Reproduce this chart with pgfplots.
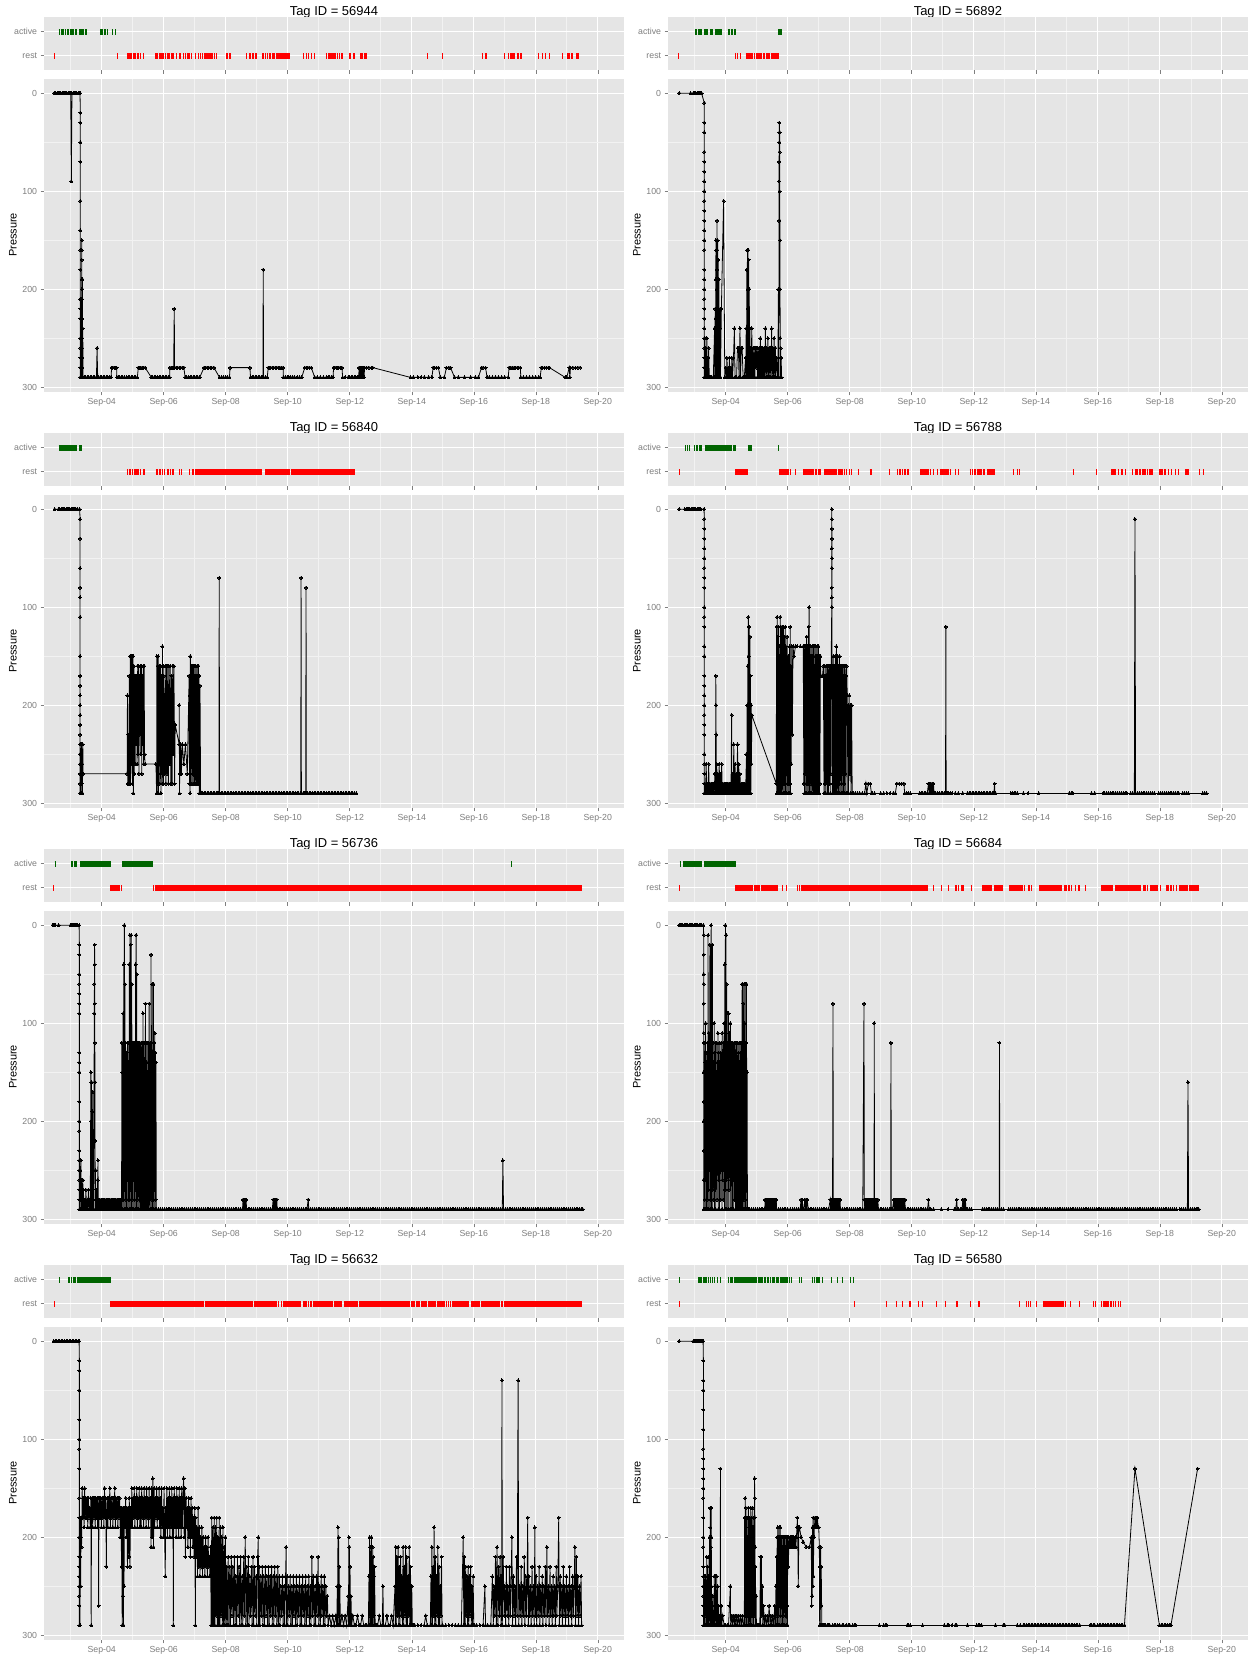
\documentclass[border=0pt]{standalone}
\usepackage{fontspec}
\setmainfont{Liberation Sans}
\usepackage{pgfplots}
\pgfplotsset{compat=1.18}

\definecolor{panelbg}{HTML}{E5E5E5}
\definecolor{gridminor}{HTML}{F2F2F2}
\definecolor{axisgrey}{HTML}{7F7F7F}
\definecolor{activegreen}{HTML}{006400}
\definecolor{restred}{HTML}{FF0000}

\newcommand{\titlefont}{\fontsize{13}{15}\selectfont}
\newcommand{\labfont}{\fontsize{11}{13}\selectfont}
\newcommand{\tickfont}{\fontsize{8.8}{10}\selectfont}

\pgfplotsset{
  ggbase/.style={
    scale only axis, anchor=north west,
    width=579.2bp,
    xmin=2.148, xmax=20.83,
    axis background/.style={fill=panelbg},
    axis line style={draw=none},
    tick align=outside,
    major tick length=3.7bp, minor tick length=0pt,
    every tick/.style={draw=axisgrey, line width=0.5bp},
    xtick={4,6,...,20}, minor xtick={3,5,...,19},
    xmajorgrids, xminorgrids,
    major grid style={white, line width=1.1bp},
    minor grid style={gridminor, line width=0.55bp},
    xtick pos=bottom, ytick pos=left,
    tick label style={font=\tickfont, text=axisgrey},
    /pgf/number format/assume math mode=true,
    filter discard warning=false,
  },
  strip/.style={ggbase, height=52.7bp, ymin=0.4, ymax=2.6,
    ytick={1,2}, yticklabels={rest,active}, xticklabels={}, ymajorgrids},
  depth/.style={ggbase, height=312.6bp, ymin=-14.5, ymax=304.5, y dir=reverse,
    ytick={0,100,200,300}, minor ytick={50,150,250}, ymajorgrids, yminorgrids,
    xticklabels={Sep-04,Sep-06,Sep-08,Sep-10,Sep-12,Sep-14,Sep-16,Sep-18,Sep-20}},
  actbar/.style={draw=activegreen, line width=6bp, mark=none, unbounded coords=jump},
  restbar/.style={draw=restred, line width=6bp, mark=none, unbounded coords=jump},
  dive/.style={black, line width=0.8bp, mark=*, mark size=1.5bp,
    mark options={fill=black, draw=black, line width=0pt}},
}

\begin{document}
\begin{tikzpicture}
\fill[white] (0,0) rectangle (1249bp,-1654bp);
\useasboundingbox (0,0) rectangle (1249bp,-1654bp);

% ---------------- Tag 56944 ----------------
\node[font=\titlefont] at (333.9bp,-12bp) {Tag ID = 56944};
\node[font=\labfont, rotate=90] at (13bp,-235bp) {Pressure};
\begin{axis}[strip, at={(44.3bp,-17.3bp)}]
\addplot[actbar] coordinates {(2.61,2)(2.66,2)(2.66,nan)(2.68,2)(2.78,2)(2.78,nan)(2.8,2)(2.83,2)(2.83,nan)(2.89,2)(2.95,2)(2.95,nan)(2.97,2)(3.12,2)(3.12,nan)(3.14,2)(3.21,2)(3.21,nan)(3.28,2)(3.36,2)(3.36,nan)(3.38,2)(3.42,2)(3.42,nan)(3.45,2)(3.51,2)(3.51,nan)(3.95,2)(4.05,2)(4.05,nan)(4.07,2)(4.14,2)(4.14,nan)(4.16,2)(4.2,2)(4.2,nan)(4.32,2)(4.34,2)(4.34,nan)(4.43,2)(4.45,2)};
\addplot[restbar] coordinates {(2.47,1)(2.5,1)(2.5,nan)(4.5,1)(4.52,1)(4.52,nan)(4.82,1)(4.9,1)(4.9,nan)(4.92,1)(4.98,1)(4.98,nan)(5.0,1)(5.12,1)(5.12,nan)(5.15,1)(5.2,1)(5.2,nan)(5.25,1)(5.28,1)(5.28,nan)(5.34,1)(5.36,1)(5.36,nan)(5.72,1)(5.82,1)(5.82,nan)(5.84,1)(6.0,1)(6.0,nan)(6.03,1)(6.08,1)(6.08,nan)(6.1,1)(6.2,1)(6.2,nan)(6.22,1)(6.32,1)(6.32,nan)(6.38,1)(6.42,1)(6.42,nan)(6.5,1)(6.56,1)(6.56,nan)(6.62,1)(6.64,1)(6.64,nan)(6.68,1)(6.7,1)(6.7,nan)(6.76,1)(6.84,1)(6.84,nan)(6.88,1)(6.9,1)(6.9,nan)(7.0,1)(7.02,1)(7.02,nan)(7.1,1)(7.14,1)(7.14,nan)(7.18,1)(7.2,1)(7.2,nan)(7.24,1)(7.28,1)(7.28,nan)(7.3,1)(7.6,1)(7.6,nan)(7.62,1)(7.66,1)(7.66,nan)(7.68,1)(7.72,1)(7.72,nan)(8.02,1)(8.06,1)(8.06,nan)(8.12,1)(8.17,1)(8.17,nan)(8.66,1)(8.68,1)(8.68,nan)(8.76,1)(8.8,1)(8.8,nan)(8.85,1)(8.92,1)(8.92,nan)(8.95,1)(9.0,1)(9.0,nan)(9.17,1)(9.22,1)(9.22,nan)(9.26,1)(9.28,1)(9.28,nan)(9.32,1)(9.34,1)(9.34,nan)(9.38,1)(9.4,1)(9.4,nan)(9.44,1)(9.46,1)(9.46,nan)(9.5,1)(9.6,1)(9.6,nan)(9.62,1)(9.8,1)(9.8,nan)(9.82,1)(10.0,1)(10.0,nan)(10.02,1)(10.06,1)(10.06,nan)(10.49,1)(10.52,1)(10.52,nan)(10.58,1)(10.6,1)(10.6,nan)(10.66,1)(10.7,1)(10.7,nan)(10.76,1)(10.78,1)(10.78,nan)(10.84,1)(10.87,1)(10.87,nan)(11.22,1)(11.26,1)(11.26,nan)(11.3,1)(11.55,1)(11.55,nan)(11.58,1)(11.62,1)(11.62,nan)(11.66,1)(11.68,1)(11.68,nan)(11.72,1)(11.78,1)(11.78,nan)(11.99,1)(12.03,1)(12.03,nan)(12.12,1)(12.16,1)(12.16,nan)(12.34,1)(12.42,1)(12.42,nan)(12.46,1)(12.55,1)(12.55,nan)(14.5,1)(14.52,1)(14.52,nan)(14.98,1)(15.0,1)(15.0,nan)(16.25,1)(16.28,1)(16.28,nan)(16.35,1)(16.42,1)(16.42,nan)(16.98,1)(17.0,1)(17.0,nan)(17.1,1)(17.12,1)(17.12,nan)(17.18,1)(17.25,1)(17.25,nan)(17.28,1)(17.32,1)(17.32,nan)(17.38,1)(17.45,1)(17.45,nan)(17.5,1)(17.56,1)(17.56,nan)(18.08,1)(18.12,1)(18.12,nan)(18.2,1)(18.24,1)(18.24,nan)(18.3,1)(18.32,1)(18.32,nan)(18.44,1)(18.47,1)(18.47,nan)(18.85,1)(18.87,1)(18.87,nan)(19.02,1)(19.1,1)(19.1,nan)(19.15,1)(19.2,1)(19.2,nan)(19.3,1)(19.39,1)};
\end{axis}
\begin{axis}[depth, at={(44.3bp,-79bp)}]
\addplot[dive] coordinates {(2.47,0)(2.52,0)(2.56,0)(2.6,0)(2.64,0)(2.68,0)(2.72,0)(2.76,0)(2.8,0)(2.84,0)(2.88,0)(2.92,0)(2.96,0)(3.0,0)(3.02,90)(3.04,0)(3.08,0)(3.12,0)(3.16,0)(3.2,0)(3.24,0)(3.28,0)(3.3,0)
(3.31,20)(3.31,30)(3.31,50)(3.31,70)(3.31,110)(3.31,140)(3.31,160)(3.31,180)(3.31,210)(3.31,220)(3.31,230)(3.31,250)(3.31,260)(3.31,270)(3.31,280)(3.31,290)
(3.32,290)(3.325,270)(3.33,250)(3.335,290)(3.34,230)(3.345,210)(3.35,290)(3.355,150)(3.356,160)(3.357,170)(3.358,190)(3.359,200)(3.36,210)(3.361,230)(3.362,240)(3.363,250)(3.364,260)(3.365,270)(3.366,280)(3.367,290)(3.372,200)(3.376,290)(3.38,190)(3.384,290)(3.39,240)(3.395,290)
(3.43,290)(3.48,290)(3.53,290)(3.58,290)(3.63,290)(3.68,290)(3.73,290)(3.78,290)(3.83,290)(3.85,260)(3.87,290)(3.9,290)(3.95,290)(4.0,290)(4.05,290)(4.1,290)(4.15,290)(4.2,290)(4.25,290)(4.3,290)(4.32,280)(4.36,280)(4.4,280)(4.44,280)(4.48,280)(4.49,290)(4.53,290)(4.58,290)(4.63,290)(4.68,290)(4.73,290)(4.8,290)(4.85,290)(4.9,290)(4.95,290)(5.0,290)(5.05,290)(5.1,290)(5.15,290)(5.18,280)(5.22,280)(5.26,280)(5.3,280)(5.34,280)(5.4,280)(5.6,290)(5.65,290)(5.7,290)(5.75,290)(5.8,290)(5.85,290)(5.9,290)(5.95,290)(6.0,290)(6.05,290)(6.1,290)(6.15,290)(6.19,290)(6.2,280)(6.24,280)(6.28,280)(6.32,280)(6.34,220)(6.35,280)(6.4,280)(6.45,280)(6.5,280)(6.55,280)(6.6,280)(6.65,280)(6.69,290)(6.74,290)(6.8,290)(6.85,290)(6.9,290)(6.95,290)(7.0,290)(7.05,290)(7.1,290)(7.16,290)(7.3,280)(7.35,280)(7.4,280)(7.45,280)(7.5,280)(7.55,280)(7.62,280)(7.8,290)(7.87,290)(7.93,290)(8.0,290)(8.05,290)(8.12,290)(8.14,280)(8.78,280)(8.8,290)(8.85,290)(8.9,290)(8.95,290)(9.0,290)(9.05,290)(9.1,290)(9.15,290)(9.2,290)(9.21,180)(9.22,290)(9.28,290)(9.34,290)(9.37,280)(9.41,280)(9.45,280)(9.5,280)(9.55,280)(9.6,280)(9.65,280)(9.7,280)(9.75,280)(9.8,280)(9.85,280)(9.86,290)(9.92,290)(9.98,290)(10.04,290)(10.1,290)(10.16,290)(10.22,290)(10.3,290)(10.38,290)(10.45,290)(10.55,280)(10.6,280)(10.65,280)(10.7,280)(10.76,280)(10.87,290)(10.95,290)(11.05,290)(11.15,290)(11.25,290)(11.3,290)(11.35,290)(11.42,290)(11.46,290)(11.48,280)(11.52,280)(11.56,280)(11.6,280)(11.65,280)(11.7,280)(11.75,280)(11.77,290)(11.85,290)(11.95,290)(12.0,290)(12.05,290)(12.1,290)(12.15,290)(12.2,290)(12.25,290)(12.29,290)(12.3,280)(12.31,290)(12.33,280)(12.34,290)(12.36,280)(12.37,290)(12.39,280)(12.4,290)(12.42,280)(12.43,290)(12.45,280)(12.46,290)(12.48,280)(12.55,280)(12.62,280)(12.7,280)(12.74,280)(13.96,290)(14.05,290)(14.2,290)(14.3,290)(14.4,290)(14.55,290)(14.65,290)(14.69,280)(14.73,280)(14.8,280)(14.86,280)(14.92,290)(15.05,290)(15.12,280)(15.2,280)(15.25,280)(15.38,290)(15.5,290)(15.7,290)(15.9,290)(16.05,290)(16.15,290)(16.25,280)(16.3,280)(16.38,280)(16.43,290)(16.5,290)(16.6,290)(16.7,290)(16.8,290)(16.9,290)(17.0,290)(17.11,290)(17.14,280)(17.2,280)(17.25,280)(17.3,280)(17.35,280)(17.4,280)(17.45,280)(17.5,280)(17.52,290)(17.6,290)(17.7,290)(17.8,290)(17.9,290)(18.0,290)(18.1,290)(18.14,290)(18.18,280)(18.22,280)(18.28,280)(18.34,280)(18.4,280)(18.44,280)(18.95,290)(19.0,290)(19.08,280)(19.1,290)(19.12,280)(19.2,280)(19.28,280)(19.36,280)(19.43,280)};
\end{axis}

% ---------------- Tag 56892 ----------------
\node[font=\titlefont] at (957.9bp,-12bp) {Tag ID = 56892};
\node[font=\labfont, rotate=90] at (637bp,-235bp) {Pressure};
\begin{axis}[strip, at={(668.3bp,-17.3bp)}]
\addplot[actbar] coordinates {(3.01,2)(3.08,2)(3.08,nan)(3.1,2)(3.13,2)(3.13,nan)(3.14,2)(3.22,2)(3.22,nan)(3.31,2)(3.35,2)(3.35,nan)(3.37,2)(3.42,2)(3.42,nan)(3.48,2)(3.5,2)(3.5,nan)(3.52,2)(3.6,2)(3.6,nan)(3.64,2)(3.87,2)(3.87,nan)(4.06,2)(4.08,2)(4.08,nan)(4.12,2)(4.14,2)(4.14,nan)(4.16,2)(4.25,2)(4.25,nan)(4.27,2)(4.32,2)(4.32,nan)(5.7,2)(5.8,2)};
\addplot[restbar] coordinates {(2.47,1)(2.49,1)(2.49,nan)(4.3,1)(4.32,1)(4.32,nan)(4.37,1)(4.38,1)(4.38,nan)(4.46,1)(4.48,1)(4.48,nan)(4.64,1)(4.68,1)(4.68,nan)(4.7,1)(4.88,1)(4.88,nan)(4.91,1)(4.93,1)(4.93,nan)(4.98,1)(5.1,1)(5.1,nan)(5.12,1)(5.18,1)(5.18,nan)(5.2,1)(5.28,1)(5.28,nan)(5.3,1)(5.42,1)(5.42,nan)(5.45,1)(5.55,1)(5.55,nan)(5.57,1)(5.72,1)};
\end{axis}
\begin{axis}[depth, at={(668.3bp,-79bp)}]
\addplot[dive] coordinates {(2.5,0)(2.87,0)(2.96,0)(3.0,0)(3.04,0)(3.08,0)(3.12,0)(3.15,0)(3.18,0)(3.22,0)(3.31,10)(3.31,30)(3.31,40)(3.31,60)(3.31,70)(3.31,80)(3.31,90)(3.31,100)(3.31,110)(3.31,120)(3.31,130)(3.31,140)(3.31,150)(3.31,160)(3.31,180)(3.31,190)(3.31,200)(3.31,210)(3.31,220)(3.31,230)(3.31,240)(3.31,250)(3.31,260)(3.31,270)(3.31,280)(3.31,290)
(3.33,250)(3.35,290)(3.36,260)(3.38,290)(3.39,250)(3.41,290)(3.42,270)(3.44,290)(3.45,260)(3.47,290)(3.51,290)(3.55,290)(3.6,290)
(3.64,240)(3.65,290)(3.66,220)(3.67,290)(3.675,230)(3.68,190)(3.685,150)(3.69,290)(3.7,160)(3.705,200)(3.71,290)(3.715,230)(3.718,180)(3.72,130)(3.722,160)(3.725,200)(3.728,250)(3.73,290)(3.74,150)(3.75,290)(3.76,170)(3.77,290)(3.78,190)(3.79,290)(3.8,240)(3.81,290)(3.82,220)(3.83,290)
(3.86,220)(3.93,110)(3.97,290)(4.0,280)(4.02,290)(4.04,270)(4.06,290)(4.08,280)(4.1,290)(4.12,270)(4.14,290)(4.16,280)(4.18,290)(4.2,270)(4.22,290)(4.25,270)(4.28,240)(4.3,290)(4.35,290)(4.38,260)(4.41,260)(4.43,290)(4.46,240)(4.48,290)(4.5,260)(4.53,260)(4.56,290)(4.6,290)
(4.64,270)(4.65,290)(4.66,240)(4.67,290)(4.68,180)(4.69,290)(4.7,160)(4.705,200)(4.71,290)(4.72,160)(4.725,220)(4.73,290)(4.74,170)(4.75,290)(4.76,200)(4.77,290)(4.78,240)(4.79,290)(4.8,260)(4.82,290)(4.84,240)(4.86,290)
(4.88,260)(4.9,290)(4.92,260)(4.94,290)(4.96,260)(4.98,280)(5.0,260)(5.02,290)(5.04,260)(5.06,290)(5.08,260)(5.1,290)(5.12,250)(5.14,290)(5.16,260)(5.18,290)(5.2,260)(5.22,290)(5.24,260)(5.26,290)(5.28,240)(5.3,290)(5.32,260)(5.34,290)(5.36,250)(5.38,290)(5.4,260)(5.42,290)(5.44,260)(5.46,290)(5.48,240)(5.5,290)(5.52,260)(5.54,290)(5.56,250)(5.58,290)(5.6,260)(5.62,290)(5.64,270)
(5.68,290)(5.7,200)(5.71,290)(5.72,130)(5.72,90)(5.72,70)(5.73,50)(5.73,40)(5.73,30)(5.74,40)(5.74,60)(5.74,100)(5.75,150)(5.75,200)(5.76,250)(5.76,290)(5.77,260)(5.78,290)(5.79,270)(5.8,290)};
\end{axis}

% ---------------- Tag 56840 ----------------
\node[font=\titlefont] at (333.9bp,-428bp) {Tag ID = 56840};
\node[font=\labfont, rotate=90] at (13bp,-651bp) {Pressure};
\begin{axis}[strip, at={(44.3bp,-433.3bp)}]
\addplot[actbar] coordinates {(2.61,2)(2.64,2)(2.64,nan)(2.66,2)(2.8,2)(2.8,nan)(2.82,2)(3.0,2)(3.0,nan)(3.02,2)(3.19,2)(3.19,nan)(3.28,2)(3.36,2)};
\addplot[restbar] coordinates {(4.82,1)(4.84,1)(4.84,nan)(4.87,1)(4.95,1)(4.95,nan)(4.97,1)(5.02,1)(5.02,nan)(5.05,1)(5.1,1)(5.1,nan)(5.12,1)(5.2,1)(5.2,nan)(5.25,1)(5.28,1)(5.28,nan)(5.33,1)(5.38,1)(5.38,nan)(5.75,1)(5.82,1)(5.82,nan)(5.84,1)(5.9,1)(5.9,nan)(5.93,1)(5.95,1)(5.95,nan)(6.01,1)(6.03,1)(6.03,nan)(6.1,1)(6.16,1)(6.16,nan)(6.2,1)(6.25,1)(6.25,nan)(6.28,1)(6.33,1)(6.33,nan)(6.5,1)(6.52,1)(6.52,nan)(6.56,1)(6.58,1)(6.58,nan)(6.83,1)(6.86,1)(6.86,nan)(6.9,1)(6.98,1)(6.98,nan)(7.02,1)(9.18,1)(9.18,nan)(9.27,1)(10.06,1)(10.06,nan)(10.09,1)(12.17,1)};
\end{axis}
\begin{axis}[depth, at={(44.3bp,-495bp)}]
\addplot[dive] coordinates {(2.48,0)(2.61,0)(2.65,0)(2.69,0)(2.73,0)(2.77,0)(2.81,0)(2.85,0)(2.89,0)(2.93,0)(2.97,0)(3.01,0)(3.05,0)(3.09,0)(3.13,0)(3.17,0)(3.21,0)(3.29,0)
(3.3,10)(3.3,30)(3.3,60)(3.3,80)(3.3,90)(3.3,110)(3.3,150)(3.3,170)(3.3,180)(3.3,190)(3.3,200)(3.3,210)(3.3,220)(3.3,230)(3.3,240)(3.3,250)(3.3,260)(3.3,270)(3.3,280)(3.3,290)
(3.31,240)(3.32,290)(3.33,250)(3.34,290)(3.35,240)(3.36,280)(3.37,260)(3.38,290)(3.39,240)(3.4,270)(4.82,270)
(4.83,190)(4.84,280)(4.86,230)(4.87,280)(4.89,170)(4.9,280)(4.92,150)(4.93,280)(4.95,150)(4.96,260)(4.98,150)(4.99,280)(5.01,150)(5.02,290)(5.04,160)(5.05,270)(5.07,170)(5.08,260)(5.1,170)(5.11,240)(5.13,170)(5.14,260)(5.16,160)(5.17,250)(5.19,160)(5.2,270)(5.22,170)(5.23,230)(5.25,160)(5.26,250)(5.28,160)(5.29,270)(5.31,170)(5.32,240)(5.34,160)(5.35,260)(5.37,160)(5.38,250)(5.4,260)(5.75,260)
(5.77,290)(5.78,150)(5.79,290)(5.8,160)(5.81,280)(5.82,150)(5.83,290)(5.84,170)(5.85,260)(5.86,160)(5.87,280)(5.88,180)(5.89,270)(5.9,160)(5.91,290)(5.92,190)(5.93,260)(5.94,170)(5.95,280)(5.96,140)(5.97,270)(5.98,160)(5.99,280)(6.0,170)(6.01,260)(6.02,190)(6.03,270)(6.05,160)(6.07,280)(6.09,160)(6.11,270)(6.13,160)(6.15,280)(6.17,160)(6.19,260)(6.21,160)(6.23,280)(6.25,170)(6.27,280)(6.29,160)(6.31,250)(6.33,160)(6.35,280)(6.37,220)
(6.5,240)(6.5,200)(6.51,290)(6.52,240)(6.53,270)(6.55,240)(6.57,270)(6.6,240)(6.65,260)(6.7,240)(6.76,270)(6.82,170)
(6.83,280)(6.84,190)(6.85,290)(6.86,150)(6.87,280)(6.88,170)(6.89,260)(6.9,160)(6.91,280)(6.92,170)(6.93,270)(6.94,160)(6.95,280)(6.96,160)(6.97,260)(6.98,170)(6.99,280)(7.0,160)(7.01,270)(7.02,170)(7.03,280)(7.04,160)(7.05,260)(7.06,170)(7.07,280)(7.08,160)(7.09,270)(7.1,170)(7.11,280)(7.12,160)(7.13,270)(7.14,170)(7.15,290)(7.17,180)(7.19,290)(7.21,290)
(7.25,290)(7.3,290)(7.35,290)(7.4,290)(7.45,290)(7.5,290)(7.55,290)(7.6,290)(7.65,290)(7.7,290)(7.75,290)(7.78,290)(7.79,70)(7.8,290)(7.85,290)(7.9,290)(7.95,290)(8.0,290)(8.05,290)(8.1,290)(8.15,290)(8.2,290)(8.25,290)(8.3,290)(8.35,290)(8.4,290)(8.45,290)(8.5,290)(8.55,290)(8.6,290)(8.65,290)(8.7,290)(8.75,290)(8.8,290)(8.85,290)(8.9,290)(8.95,290)(9.0,290)(9.05,290)(9.1,290)(9.15,290)(9.2,290)(9.25,290)(9.3,290)(9.35,290)(9.4,290)(9.45,290)(9.5,290)(9.55,290)(9.6,290)(9.65,290)(9.7,290)(9.75,290)(9.8,290)(9.85,290)(9.9,290)(9.95,290)(10.0,290)(10.05,290)(10.1,290)(10.15,290)(10.2,290)(10.25,290)(10.3,290)(10.35,290)(10.42,290)(10.43,70)(10.44,290)(10.5,290)(10.55,290)(10.58,290)(10.59,80)(10.6,290)(10.65,290)(10.7,290)(10.75,290)(10.8,290)(10.85,290)(10.9,290)(10.95,290)(11.0,290)(11.05,290)(11.1,290)(11.15,290)(11.2,290)(11.25,290)(11.3,290)(11.35,290)(11.4,290)(11.45,290)(11.5,290)(11.55,290)(11.6,290)(11.65,290)(11.7,290)(11.75,290)(11.8,290)(11.85,290)(11.9,290)(11.95,290)(12.0,290)(12.05,290)(12.1,290)(12.15,290)(12.21,290)};
\end{axis}

% ---------------- Tag 56788 ----------------
\node[font=\titlefont] at (957.9bp,-428bp) {Tag ID = 56788};
\node[font=\labfont, rotate=90] at (637bp,-651bp) {Pressure};
\begin{axis}[strip, at={(668.3bp,-433.3bp)}]
\addplot[actbar] coordinates {(2.7,2)(2.72,2)(2.72,nan)(2.75,2)(2.77,2)(2.77,nan)(2.82,2)(2.83,2)(2.83,nan)(2.97,2)(3.02,2)(3.02,nan)(3.04,2)(3.12,2)(3.12,nan)(3.14,2)(3.22,2)(3.22,nan)(3.32,2)(4.1,2)(4.1,nan)(4.12,2)(4.2,2)(4.2,nan)(4.22,2)(4.26,2)(4.26,nan)(4.28,2)(4.32,2)(4.32,nan)(4.71,2)(4.84,2)(4.84,nan)(5.69,2)(5.71,2)};
\addplot[restbar] coordinates {(2.49,1)(2.51,1)(2.51,nan)(4.31,1)(4.71,1)(4.71,nan)(5.72,1)(5.97,1)(5.97,nan)(5.99,1)(6.03,1)(6.03,nan)(6.07,1)(6.09,1)(6.09,nan)(6.25,1)(6.28,1)(6.28,nan)(6.49,1)(6.85,1)(6.85,nan)(6.87,1)(6.95,1)(6.95,nan)(6.98,1)(7.07,1)(7.07,nan)(7.17,1)(7.45,1)(7.45,nan)(7.47,1)(7.52,1)(7.52,nan)(7.54,1)(7.6,1)(7.6,nan)(7.62,1)(7.78,1)(7.78,nan)(7.8,1)(7.83,1)(7.83,nan)(7.88,1)(7.9,1)(7.9,nan)(7.97,1)(8.0,1)(8.0,nan)(8.05,1)(8.08,1)(8.08,nan)(8.27,1)(8.31,1)(8.31,nan)(8.64,1)(8.66,1)(8.66,nan)(8.68,1)(8.7,1)(8.7,nan)(9.26,1)(9.28,1)(9.28,nan)(9.53,1)(9.55,1)(9.55,nan)(9.6,1)(9.64,1)(9.64,nan)(9.68,1)(9.7,1)(9.7,nan)(9.76,1)(9.8,1)(9.8,nan)(9.86,1)(9.9,1)(9.9,nan)(10.28,1)(10.55,1)(10.55,nan)(10.58,1)(10.62,1)(10.62,nan)(10.68,1)(10.72,1)(10.72,nan)(10.8,1)(10.82,1)(10.82,nan)(10.9,1)(11.2,1)(11.2,nan)(11.22,1)(11.26,1)(11.26,nan)(11.4,1)(11.42,1)(11.42,nan)(11.5,1)(11.52,1)(11.52,nan)(11.87,1)(11.9,1)(11.9,nan)(11.93,1)(11.96,1)(11.96,nan)(12.02,1)(12.06,1)(12.06,nan)(12.1,1)(12.25,1)(12.25,nan)(12.3,1)(12.36,1)(12.36,nan)(12.42,1)(12.58,1)(12.58,nan)(12.6,1)(12.7,1)(12.7,nan)(13.25,1)(13.3,1)(13.3,nan)(13.38,1)(13.4,1)(13.4,nan)(13.45,1)(13.47,1)(13.47,nan)(15.2,1)(15.22,1)(15.22,nan)(15.95,1)(15.97,1)(15.97,nan)(16.43,1)(16.6,1)(16.6,nan)(16.64,1)(16.7,1)(16.7,nan)(16.74,1)(16.8,1)(16.8,nan)(16.88,1)(16.92,1)(16.92,nan)(17.1,1)(17.14,1)(17.14,nan)(17.2,1)(17.3,1)(17.3,nan)(17.34,1)(17.4,1)(17.4,nan)(17.43,1)(17.55,1)(17.55,nan)(17.58,1)(17.62,1)(17.62,nan)(17.65,1)(17.78,1)(17.78,nan)(17.97,1)(18.1,1)(18.1,nan)(18.13,1)(18.2,1)(18.2,nan)(18.25,1)(18.3,1)(18.3,nan)(18.36,1)(18.4,1)(18.4,nan)(18.5,1)(18.52,1)(18.52,nan)(18.6,1)(18.62,1)(18.62,nan)(18.81,1)(18.94,1)(18.94,nan)(19.26,1)(19.28,1)(19.28,nan)(19.41,1)(19.43,1)};
\end{axis}
\begin{axis}[depth, at={(668.3bp,-495bp)}]
\addplot[dive] coordinates {(2.5,0)(2.68,0)(2.72,0)(2.76,0)(2.8,0)(2.84,0)(2.88,0)(2.92,0)(2.96,0)(3.0,0)(3.04,0)(3.08,0)(3.12,0)(3.16,0)(3.2,0)(3.3,0)
(3.31,10)(3.31,20)(3.31,30)(3.31,40)(3.31,50)(3.31,60)(3.31,70)(3.31,80)(3.31,100)(3.31,110)(3.31,120)(3.31,140)(3.31,150)(3.31,170)(3.31,180)(3.31,190)(3.31,200)(3.31,210)(3.31,220)(3.31,230)(3.31,250)(3.31,260)(3.31,270)(3.31,280)(3.31,290)
(3.33,280)(3.35,290)(3.37,260)(3.39,290)(3.41,280)(3.43,290)(3.45,260)(3.47,290)(3.49,280)(3.51,290)(3.53,280)(3.55,290)(3.57,280)(3.59,290)(3.61,280)(3.63,290)(3.65,270)(3.67,290)(3.68,170)(3.685,200)(3.69,230)(3.7,290)(3.71,260)(3.73,290)(3.75,270)(3.77,290)(3.79,260)(3.81,290)(3.83,270)(3.85,290)(3.87,260)(3.89,290)(3.91,280)(3.93,290)(3.95,280)(3.97,290)(3.99,280)(4.01,290)(4.03,280)(4.05,290)(4.07,280)(4.09,290)(4.11,280)(4.13,290)(4.15,280)(4.17,290)(4.19,210)(4.2,290)(4.22,270)(4.24,290)(4.26,240)(4.28,290)(4.3,260)(4.32,290)(4.34,270)(4.36,290)(4.38,240)(4.4,290)(4.42,260)(4.44,290)(4.46,270)(4.48,290)(4.5,280)(4.52,290)(4.54,280)(4.56,290)(4.58,280)(4.6,290)(4.62,280)(4.64,290)
(4.67,250)(4.68,290)(4.69,200)(4.7,290)(4.71,160)(4.72,290)(4.73,110)(4.735,150)(4.74,200)(4.745,250)(4.75,290)(4.76,120)(4.77,290)(4.78,130)(4.79,290)(4.8,170)(4.81,290)(4.82,200)(4.83,260)(4.84,210)(5.63,280)
(5.64,120)(5.65,290)(5.66,110)(5.67,280)(5.68,130)(5.69,290)(5.7,120)(5.71,280)(5.72,140)(5.73,290)(5.74,150)(5.75,270)(5.76,110)(5.77,290)(5.78,120)(5.79,280)(5.8,130)(5.81,290)(5.82,120)(5.83,270)(5.84,140)(5.85,290)(5.86,120)(5.87,280)(5.88,150)(5.89,290)(5.9,130)(5.91,280)(5.92,120)(5.93,290)(5.94,140)(5.95,270)(5.96,150)(5.97,290)(5.98,130)(5.99,280)(6.0,160)(6.01,290)(6.02,150)(6.03,280)(6.04,200)(6.05,290)(6.06,140)(6.07,280)(6.08,120)(6.09,290)(6.1,160)(6.11,260)(6.13,140)(6.15,230)(6.17,140)(6.2,150)(6.25,140)(6.3,140)(6.4,140)(6.5,140)
(6.52,280)(6.53,140)(6.54,290)(6.55,150)(6.56,270)(6.57,140)(6.58,290)(6.59,150)(6.6,280)(6.61,130)(6.62,290)(6.63,150)(6.64,280)(6.65,140)(6.66,290)(6.67,120)(6.68,280)(6.69,100)(6.7,290)(6.71,140)(6.72,280)(6.73,150)(6.74,290)(6.75,140)(6.76,270)(6.77,150)(6.78,290)(6.79,140)(6.8,280)(6.81,150)(6.82,290)(6.83,140)(6.84,280)(6.85,160)(6.86,290)(6.87,140)(6.88,270)(6.89,150)(6.9,290)(6.91,140)(6.92,280)(6.93,150)(6.94,290)(6.95,140)(6.96,280)(6.97,150)(6.98,290)(6.99,140)(7.0,280)(7.01,150)(7.02,290)(7.03,150)(7.04,280)(7.05,150)(7.07,170)(7.12,170)(7.15,160)
(7.17,290)(7.18,170)(7.19,280)(7.2,160)(7.21,290)(7.22,170)(7.23,280)(7.24,160)(7.25,270)(7.26,170)(7.27,290)(7.28,160)(7.29,280)(7.3,170)(7.31,290)(7.32,160)(7.33,270)(7.34,170)(7.35,280)(7.36,160)(7.37,290)(7.38,160)(7.39,270)(7.4,160)
(7.42,100)(7.42,80)(7.42,60)(7.42,40)(7.42,20)(7.42,10)(7.42,0)(7.425,30)(7.425,50)(7.425,90)(7.43,160)
(7.44,290)(7.45,160)(7.46,280)(7.47,150)(7.48,290)(7.49,160)(7.5,270)(7.51,160)(7.52,290)(7.53,150)(7.54,280)(7.55,160)(7.56,290)(7.57,140)(7.58,280)(7.59,160)(7.6,290)(7.61,150)(7.62,270)(7.63,160)(7.64,290)(7.65,160)(7.66,280)(7.67,150)(7.68,290)(7.69,160)(7.7,270)(7.71,160)(7.72,290)(7.73,160)(7.74,280)(7.75,170)(7.76,290)(7.77,160)(7.78,270)(7.79,160)(7.8,290)(7.81,170)(7.82,280)(7.83,160)(7.84,290)(7.85,160)(7.86,270)(7.87,170)(7.88,290)(7.9,160)(7.92,190)
(7.94,290)(7.95,200)(7.97,290)(7.98,190)(8.0,270)(8.02,200)(8.04,290)(8.06,200)(8.08,290)
(8.12,290)(8.18,290)(8.25,290)(8.32,290)(8.4,290)(8.48,290)(8.52,280)(8.55,290)(8.6,280)(8.66,280)(8.7,290)(8.72,290)(8.8,290)(9.0,290)(9.1,290)(9.2,290)(9.3,290)(9.4,290)(9.47,290)(9.52,280)(9.6,280)(9.68,280)(9.75,280)(9.77,290)(9.82,290)(9.88,290)(9.95,290)(10.26,290)(10.3,290)(10.35,290)(10.4,290)(10.45,290)(10.5,290)(10.54,280)(10.56,290)(10.58,280)(10.6,290)(10.62,280)(10.64,290)(10.66,280)(10.68,290)(10.7,280)(10.72,290)(10.77,290)(10.82,290)(10.88,290)(10.95,290)(11.0,290)(11.05,290)(11.09,290)(11.1,120)(11.11,290)(11.15,290)(11.2,290)(11.25,290)(11.3,290)(11.4,290)(11.5,290)(11.65,290)(11.8,290)(11.85,290)(11.9,290)(11.95,290)(12.0,290)(12.05,290)(12.1,290)(12.15,290)(12.2,290)(12.25,290)(12.3,290)(12.35,290)(12.4,290)(12.45,290)(12.5,290)(12.55,290)(12.6,290)(12.65,290)(12.67,280)(12.68,290)(12.7,290)(13.2,290)(13.25,290)(13.3,290)(13.35,290)(13.4,290)(13.6,290)(13.75,290)(14.1,290)(15.08,290)(15.14,290)(15.2,290)(15.8,290)(15.9,290)(16.17,290)(16.22,290)(16.28,290)(16.34,290)(16.4,290)(16.46,290)(16.52,290)(16.58,290)(16.64,290)(16.7,290)(16.76,290)(16.82,290)(16.88,290)(16.94,290)(17.06,290)(17.12,290)(17.18,290)(17.2,10)(17.22,290)(17.28,290)(17.34,290)(17.4,290)(17.46,290)(17.52,290)(17.58,290)(17.64,290)(17.7,290)(17.76,290)(17.82,290)(17.97,290)(18.03,290)(18.09,290)(18.15,290)(18.21,290)(18.27,290)(18.33,290)(18.39,290)(18.45,290)(18.51,290)(18.57,290)(18.61,290)(18.74,290)(18.8,290)(18.86,290)(18.92,290)(19.39,290)(19.45,290)(19.51,290)};
\end{axis}

% ---------------- Tag 56736 ----------------
\node[font=\titlefont] at (333.9bp,-844bp) {Tag ID = 56736};
\node[font=\labfont, rotate=90] at (13bp,-1067bp) {Pressure};
\begin{axis}[strip, at={(44.3bp,-849.3bp)}]
\addplot[actbar] coordinates {(2.48,2)(2.5,2)(2.5,nan)(3.01,2)(3.08,2)(3.08,nan)(3.1,2)(3.19,2)(3.19,nan)(3.3,2)(4.29,2)(4.29,nan)(4.66,2)(5.66,2)(5.66,nan)(17.2,2)(17.24,2)};
\addplot[restbar] coordinates {(2.44,1)(2.46,1)(2.46,nan)(4.28,1)(4.6,1)(4.6,nan)(4.62,1)(4.67,1)(4.67,nan)(5.66,1)(5.69,1)(5.69,nan)(5.71,1)(19.48,1)};
\end{axis}
\begin{axis}[depth, at={(44.3bp,-911bp)}]
\addplot[dive] coordinates {(2.42,0)(2.45,0)(2.48,0)(2.5,0)(2.61,0)(3.0,0)(3.03,0)(3.06,0)(3.09,0)(3.12,0)(3.15,0)(3.18,0)(3.21,0)(3.27,0)
(3.28,20)(3.28,30)(3.28,50)(3.28,60)(3.28,70)(3.28,80)(3.28,90)(3.28,130)(3.28,140)(3.28,150)(3.28,180)(3.28,200)(3.28,210)(3.28,230)(3.28,240)(3.28,250)(3.28,260)(3.28,270)(3.28,280)(3.28,290)
(3.29,240)(3.3,290)(3.31,250)(3.32,280)(3.33,240)(3.34,290)(3.35,260)(3.36,290)(3.37,270)(3.38,290)(3.39,260)(3.4,290)(3.41,270)(3.43,290)(3.45,280)(3.47,290)(3.49,270)(3.51,290)(3.53,280)(3.55,290)(3.57,270)(3.59,290)(3.61,280)(3.63,290)
(3.65,150)(3.655,200)(3.66,290)(3.67,160)(3.68,290)(3.69,190)(3.7,290)(3.71,170)(3.72,280)(3.73,210)(3.74,290)(3.76,90)(3.765,60)(3.77,20)(3.772,40)(3.775,80)(3.778,120)(3.78,160)(3.785,220)(3.79,290)(3.8,250)(3.81,290)(3.83,270)(3.85,290)(3.87,260)(3.88,240)(3.89,290)(3.9,280)
(3.92,290)(3.94,280)(3.96,290)(3.98,280)(4.0,290)(4.02,280)(4.04,290)(4.06,280)(4.08,290)(4.1,280)(4.12,290)(4.14,280)(4.16,290)(4.18,280)(4.2,290)(4.22,280)(4.24,290)(4.26,280)(4.28,290)(4.3,280)(4.32,290)(4.34,280)(4.36,290)(4.38,280)(4.4,290)(4.42,280)(4.44,290)(4.46,280)(4.48,290)(4.5,280)(4.52,290)(4.54,280)(4.56,290)(4.58,280)(4.6,290)(4.62,280)
(4.64,290)(4.65,120)(4.66,280)(4.67,150)(4.68,290)(4.69,90)(4.7,280)(4.71,40)(4.72,290)(4.73,0)(4.74,270)(4.75,60)(4.76,290)(4.77,120)(4.78,280)(4.79,150)(4.8,290)(4.81,130)(4.82,260)(4.83,120)(4.84,290)(4.85,140)(4.86,280)(4.87,120)(4.88,290)(4.89,40)(4.9,280)(4.91,10)(4.92,290)(4.93,20)(4.94,270)(4.95,10)(4.96,290)(4.97,60)(4.98,280)(4.99,120)(5.0,290)(5.01,140)(5.02,260)(5.03,120)(5.04,290)(5.05,150)(5.06,280)(5.07,120)(5.08,290)(5.09,40)(5.1,270)(5.11,10)(5.12,290)(5.13,50)(5.14,280)(5.15,120)(5.16,290)(5.17,150)(5.18,260)(5.19,120)(5.2,290)(5.21,130)(5.22,280)(5.23,120)(5.24,290)(5.25,150)(5.26,270)(5.27,120)(5.28,290)(5.29,140)(5.3,280)(5.31,120)(5.32,290)(5.33,90)(5.34,280)(5.35,120)(5.36,290)(5.37,150)(5.38,260)(5.39,120)(5.4,290)(5.41,80)(5.42,280)(5.43,120)(5.44,290)(5.45,140)(5.46,270)(5.47,120)(5.48,290)(5.49,150)(5.5,280)(5.51,120)(5.52,290)(5.53,80)(5.54,280)(5.55,130)(5.56,290)(5.57,120)(5.58,270)(5.59,30)(5.6,290)(5.61,150)(5.62,280)(5.63,60)(5.64,290)(5.65,130)(5.66,280)(5.67,60)(5.68,290)(5.69,120)(5.7,270)(5.71,110)(5.72,290)(5.73,130)(5.74,280)(5.75,140)(5.76,290)
(5.78,290)(5.84,290)(5.9,290)(5.96,290)(6.02,290)(6.08,290)(6.14,290)(6.2,290)(6.26,290)(6.32,290)(6.38,290)(6.44,290)(6.5,290)(6.56,290)(6.62,290)(6.68,290)(6.74,290)(6.8,290)(6.86,290)(6.92,290)(6.98,290)(7.04,290)(7.1,290)(7.16,290)(7.22,290)(7.28,290)(7.34,290)(7.4,290)(7.46,290)(7.52,290)(7.58,290)(7.64,290)(7.7,290)(7.76,290)(7.82,290)(7.88,290)(7.94,290)(8.0,290)(8.06,290)(8.12,290)(8.18,290)(8.24,290)(8.3,290)(8.36,290)(8.42,290)(8.48,290)(8.54,290)
(8.56,280)(8.57,290)(8.58,280)(8.59,290)(8.6,280)(8.61,290)(8.62,280)(8.63,290)(8.64,280)(8.65,290)(8.66,280)(8.67,290)
(8.72,290)(8.78,290)(8.84,290)(8.9,290)(8.96,290)(9.02,290)(9.08,290)(9.14,290)(9.2,290)(9.26,290)(9.32,290)(9.38,290)(9.44,290)(9.5,290)
(9.53,280)(9.54,290)(9.55,280)(9.56,290)(9.57,280)(9.58,290)(9.59,280)(9.6,290)(9.61,280)(9.62,290)(9.63,280)(9.64,290)(9.65,280)(9.66,290)
(9.72,290)(9.78,290)(9.84,290)(9.9,290)(9.96,290)(10.02,290)(10.08,290)(10.14,290)(10.2,290)(10.26,290)(10.32,290)(10.38,290)(10.44,290)(10.5,290)(10.56,290)(10.62,290)(10.66,280)(10.68,290)(10.74,290)(10.8,290)(10.86,290)(10.92,290)(10.98,290)(11.04,290)(11.1,290)(11.16,290)(11.22,290)(11.28,290)(11.34,290)(11.4,290)(11.46,290)(11.52,290)(11.58,290)(11.64,290)(11.7,290)(11.76,290)(11.82,290)(11.88,290)(11.94,290)(12.0,290)(12.06,290)(12.12,290)(12.18,290)(12.24,290)(12.3,290)(12.36,290)(12.42,290)(12.48,290)(12.54,290)(12.6,290)(12.66,290)(12.72,290)(12.78,290)(12.84,290)(12.9,290)(12.96,290)(13.02,290)(13.08,290)(13.14,290)(13.2,290)(13.26,290)(13.32,290)(13.38,290)(13.44,290)(13.5,290)(13.56,290)(13.62,290)(13.68,290)(13.74,290)(13.8,290)(13.86,290)(13.92,290)(13.98,290)(14.04,290)(14.1,290)(14.16,290)(14.22,290)(14.28,290)(14.34,290)(14.4,290)(14.46,290)(14.52,290)(14.58,290)(14.64,290)(14.7,290)(14.76,290)(14.82,290)(14.88,290)(14.94,290)(15.0,290)(15.06,290)(15.12,290)(15.18,290)(15.24,290)(15.3,290)(15.36,290)(15.42,290)(15.48,290)(15.54,290)(15.6,290)(15.66,290)(15.72,290)(15.78,290)(15.84,290)(15.9,290)(15.96,290)(16.02,290)(16.08,290)(16.14,290)(16.2,290)(16.26,290)(16.32,290)(16.38,290)(16.44,290)(16.5,290)(16.56,290)(16.62,290)(16.68,290)(16.74,290)(16.8,290)(16.86,290)(16.92,290)(16.94,240)(16.96,290)(17.02,290)(17.08,290)(17.14,290)(17.2,290)(17.26,290)(17.32,290)(17.38,290)(17.44,290)(17.5,290)(17.56,290)(17.62,290)(17.68,290)(17.74,290)(17.8,290)(17.86,290)(17.92,290)(17.98,290)(18.04,290)(18.1,290)(18.16,290)(18.22,290)(18.28,290)(18.34,290)(18.4,290)(18.46,290)(18.52,290)(18.58,290)(18.64,290)(18.7,290)(18.76,290)(18.82,290)(18.88,290)(18.94,290)(19.0,290)(19.06,290)(19.12,290)(19.18,290)(19.24,290)(19.3,290)(19.36,290)(19.42,290)(19.48,290)(19.52,290)};
\end{axis}

% ---------------- Tag 56684 ----------------
\node[font=\titlefont] at (957.9bp,-844bp) {Tag ID = 56684};
\node[font=\labfont, rotate=90] at (637bp,-1067bp) {Pressure};
\begin{axis}[strip, at={(668.3bp,-849.3bp)}]
\addplot[actbar] coordinates {(2.51,2)(2.53,2)(2.53,nan)(2.62,2)(2.9,2)(2.9,nan)(2.92,2)(3.22,2)(3.22,nan)(3.3,2)(4.32,2)};
\addplot[restbar] coordinates {(2.49,1)(2.51,1)(2.51,nan)(4.3,1)(4.89,1)(4.89,nan)(4.92,1)(5.1,1)(5.1,nan)(5.13,1)(5.7,1)(5.7,nan)(5.82,1)(5.84,1)(5.84,nan)(5.96,1)(5.98,1)(5.98,nan)(6.3,1)(6.32,1)(6.32,nan)(6.36,1)(6.38,1)(6.38,nan)(6.42,1)(10.54,1)(10.54,nan)(10.7,1)(10.72,1)(10.72,nan)(10.95,1)(10.97,1)(10.97,nan)(11.17,1)(11.19,1)(11.19,nan)(11.38,1)(11.46,1)(11.46,nan)(11.5,1)(11.52,1)(11.52,nan)(11.58,1)(11.7,1)(11.7,nan)(11.9,1)(11.93,1)(11.93,nan)(12.28,1)(12.6,1)(12.6,nan)(12.65,1)(12.93,1)(12.93,nan)(13.13,1)(13.6,1)(13.6,nan)(13.63,1)(13.65,1)(13.65,nan)(13.75,1)(13.8,1)(13.8,nan)(13.84,1)(13.86,1)(13.86,nan)(14.1,1)(14.85,1)(14.85,nan)(14.9,1)(15.0,1)(15.0,nan)(15.05,1)(15.1,1)(15.1,nan)(15.14,1)(15.16,1)(15.16,nan)(15.25,1)(15.27,1)(15.27,nan)(15.37,1)(15.44,1)(15.44,nan)(15.58,1)(15.6,1)(15.6,nan)(16.11,1)(16.5,1)(16.5,nan)(16.56,1)(17.4,1)(17.4,nan)(17.46,1)(17.55,1)(17.55,nan)(17.6,1)(17.63,1)(17.63,nan)(17.7,1)(17.95,1)(17.95,nan)(18.0,1)(18.03,1)(18.03,nan)(18.2,1)(18.3,1)(18.3,nan)(18.34,1)(18.38,1)(18.38,nan)(18.42,1)(18.45,1)(18.45,nan)(18.52,1)(18.56,1)(18.56,nan)(18.62,1)(18.9,1)(18.9,nan)(18.95,1)(19.26,1)};
\end{axis}
\begin{axis}[depth, at={(668.3bp,-911bp)}]
\addplot[dive] coordinates {(2.5,0)(2.54,0)(2.58,0)(2.62,0)(2.66,0)(2.7,0)(2.74,0)(2.78,0)(2.82,0)(2.86,0)(2.9,0)(2.94,0)(2.98,0)(3.02,0)(3.06,0)(3.1,0)(3.14,0)(3.18,0)(3.22,0)(3.28,0)
(3.29,10)(3.29,30)(3.29,50)(3.29,60)(3.29,80)(3.29,110)(3.29,120)(3.29,150)(3.29,180)(3.29,200)(3.29,230)(3.29,260)(3.29,290)
(3.3,290)(3.31,120)(3.32,280)(3.33,140)(3.34,290)(3.35,100)(3.36,260)(3.37,130)(3.38,290)(3.39,140)(3.4,280)(3.41,120)(3.42,290)(3.43,10)(3.44,270)(3.45,110)(3.46,290)(3.47,130)(3.48,250)(3.49,20)(3.5,290)(3.51,120)(3.52,280)(3.53,0)(3.54,290)(3.55,130)(3.56,270)(3.57,20)(3.58,290)(3.59,120)(3.6,280)(3.61,140)(3.62,250)(3.63,100)(3.64,290)(3.65,130)(3.66,260)(3.67,120)(3.68,290)(3.69,150)(3.7,250)(3.71,120)(3.72,280)(3.73,140)(3.74,250)(3.75,110)(3.76,290)(3.77,130)(3.78,260)(3.79,120)(3.8,290)(3.81,140)(3.82,250)(3.83,130)(3.84,280)(3.85,120)(3.86,250)(3.87,140)(3.88,290)(3.89,110)(3.9,260)(3.91,130)(3.92,280)(3.93,120)(3.94,250)(3.95,100)(3.96,290)(3.97,40)(3.98,270)(3.99,0)(4.0,290)(4.01,10)(4.02,260)(4.03,60)(4.04,290)(4.05,90)(4.06,250)(4.07,120)(4.08,290)(4.09,90)(4.1,270)(4.11,110)(4.12,250)(4.13,120)(4.14,290)(4.15,100)(4.16,260)(4.17,130)(4.18,290)(4.19,120)(4.2,250)(4.21,140)(4.22,290)(4.23,120)(4.24,260)(4.25,130)(4.26,290)(4.27,120)(4.28,280)(4.29,140)(4.3,250)(4.31,120)(4.32,290)(4.33,130)(4.34,260)(4.35,120)(4.36,290)(4.37,150)(4.38,270)(4.39,120)(4.4,290)(4.41,130)(4.42,250)(4.43,120)(4.44,290)(4.45,140)(4.46,280)(4.47,120)(4.48,290)(4.49,130)(4.5,260)(4.51,120)(4.52,290)(4.53,60)(4.54,280)(4.55,60)(4.56,290)(4.57,80)(4.58,270)(4.59,60)(4.6,290)(4.61,100)(4.62,280)(4.63,60)(4.64,290)(4.65,120)(4.66,270)(4.67,60)(4.68,290)(4.69,150)(4.7,290)
(4.72,290)(4.78,290)(4.84,290)(4.9,290)(4.96,290)(5.02,290)(5.08,290)(5.14,290)(5.2,290)(5.26,290)
(5.27,280)(5.285,290)(5.3,280)(5.315,290)(5.33,280)(5.345,290)(5.36,280)(5.375,290)(5.39,280)(5.405,290)(5.42,280)(5.435,290)(5.45,280)(5.465,290)(5.48,280)(5.495,290)(5.51,280)(5.525,290)(5.54,280)(5.555,290)(5.57,280)(5.585,290)(5.6,280)(5.615,290)(5.63,280)(5.64,290)
(5.7,290)(5.76,290)(5.82,290)(5.88,290)(5.94,290)(6.0,290)(6.08,290)(6.16,290)(6.22,290)(6.28,290)(6.34,290)(6.4,290)
(6.43,280)(6.45,290)(6.47,280)(6.49,290)(6.52,290)(6.55,280)(6.57,290)(6.59,280)(6.61,290)(6.63,280)(6.66,290)
(6.72,290)(6.78,290)(6.84,290)(6.9,290)(6.96,290)(7.02,290)(7.08,290)(7.14,290)(7.2,290)(7.26,290)(7.32,290)
(7.37,280)(7.385,290)(7.4,280)(7.415,290)(7.43,280)(7.445,290)(7.46,80)(7.47,290)(7.485,280)(7.5,290)(7.515,280)(7.53,290)(7.545,280)(7.56,290)(7.575,280)(7.59,290)(7.605,280)(7.62,290)(7.635,280)(7.65,290)(7.665,280)(7.68,290)(7.69,280)(7.7,290)
(7.76,290)(7.82,290)(7.88,290)(7.94,290)(8.0,290)(8.06,290)(8.12,290)(8.18,290)(8.24,290)(8.3,290)(8.36,290)(8.42,290)
(8.46,80)(8.47,280)(8.485,290)(8.5,280)(8.515,290)(8.53,280)(8.545,290)(8.56,280)(8.575,290)(8.59,280)(8.605,290)(8.62,280)(8.635,290)(8.65,280)(8.665,290)(8.68,280)(8.695,290)(8.71,280)(8.725,290)(8.74,280)(8.755,290)(8.77,280)(8.785,290)(8.79,100)(8.8,290)(8.815,280)(8.83,290)(8.845,280)(8.86,290)(8.875,280)(8.89,290)(8.91,280)(8.92,290)
(8.98,290)(9.04,290)(9.1,290)(9.16,290)(9.22,290)(9.28,290)(9.32,290)(9.33,120)(9.34,290)(9.38,290)
(9.42,280)(9.435,290)(9.45,280)(9.465,290)(9.48,280)(9.495,290)(9.51,280)(9.525,290)(9.54,280)(9.555,290)(9.57,280)(9.585,290)(9.6,280)(9.615,290)(9.63,280)(9.645,290)(9.66,280)(9.675,290)(9.69,280)(9.705,290)(9.72,280)(9.735,290)(9.75,280)(9.765,290)(9.78,280)(9.79,290)
(9.85,290)(9.91,290)(9.97,290)(10.03,290)(10.09,290)(10.15,290)(10.21,290)(10.27,290)(10.33,290)(10.39,290)(10.45,290)(10.51,290)(10.54,280)(10.56,290)(10.62,290)(10.7,290)(10.95,290)(11.17,290)(11.38,290)(11.42,290)(11.45,280)(11.47,290)(11.52,290)(11.58,290)(11.62,290)(11.65,280)(11.67,290)(11.69,280)(11.71,290)(11.73,280)(11.75,290)(11.8,290)(11.86,290)(11.92,290)
(12.28,290)(12.34,290)(12.4,290)(12.46,290)(12.52,290)(12.58,290)(12.64,290)(12.7,290)(12.76,290)(12.82,290)(12.83,120)(12.84,290)(12.9,290)(12.96,290)(13.13,290)(13.19,290)(13.25,290)(13.31,290)(13.37,290)(13.43,290)(13.49,290)(13.55,290)(13.61,290)(13.67,290)(13.73,290)(13.79,290)(13.85,290)(13.91,290)(13.97,290)(14.03,290)(14.09,290)(14.15,290)(14.21,290)(14.27,290)(14.33,290)(14.39,290)(14.45,290)(14.51,290)(14.57,290)(14.63,290)(14.69,290)(14.75,290)(14.81,290)(14.87,290)(14.93,290)(14.99,290)(15.05,290)(15.11,290)(15.17,290)(15.23,290)(15.29,290)(15.35,290)(15.41,290)(15.47,290)(15.53,290)(15.59,290)(15.65,290)(15.71,290)(15.77,290)(15.83,290)(15.89,290)(15.95,290)(16.01,290)(16.07,290)(16.13,290)(16.19,290)(16.25,290)(16.31,290)(16.37,290)(16.43,290)(16.49,290)(16.55,290)(16.61,290)(16.67,290)(16.73,290)(16.79,290)(16.85,290)(16.91,290)(16.97,290)(17.03,290)(17.09,290)(17.15,290)(17.21,290)(17.27,290)(17.33,290)(17.39,290)(17.45,290)(17.51,290)(17.57,290)(17.63,290)(17.69,290)(17.75,290)(17.81,290)(17.87,290)(17.93,290)(17.99,290)(18.05,290)(18.11,290)(18.17,290)(18.23,290)(18.29,290)(18.35,290)(18.41,290)(18.47,290)(18.53,290)(18.65,290)(18.71,290)(18.77,290)(18.83,290)(18.89,290)(18.91,160)(18.93,290)(18.99,290)(19.05,290)(19.11,290)(19.17,290)(19.23,290)(19.26,290)};
\end{axis}

% ---------------- Tag 56632 ----------------
\node[font=\titlefont] at (333.9bp,-1260bp) {Tag ID = 56632};
\node[font=\labfont, rotate=90] at (13bp,-1483bp) {Pressure};
\begin{axis}[strip, at={(44.3bp,-1265.3bp)}]
\addplot[actbar] coordinates {(2.62,2)(2.64,2)(2.64,nan)(2.92,2)(2.94,2)(2.94,nan)(2.96,2)(2.98,2)(2.98,nan)(3.0,2)(3.02,2)(3.02,nan)(3.06,2)(3.08,2)(3.08,nan)(3.1,2)(3.12,2)(3.12,nan)(3.15,2)(3.17,2)(3.17,nan)(3.2,2)(4.3,2)};
\addplot[restbar] coordinates {(2.47,1)(2.49,1)(2.49,nan)(4.28,1)(7.3,1)(7.3,nan)(7.32,1)(7.35,1)(7.35,nan)(7.37,1)(8.88,1)(8.88,nan)(8.9,1)(8.94,1)(8.94,nan)(8.96,1)(9.66,1)(9.66,nan)(9.7,1)(9.72,1)(9.72,nan)(9.78,1)(9.8,1)(9.8,nan)(9.86,1)(10.44,1)(10.44,nan)(10.48,1)(10.62,1)(10.62,nan)(10.64,1)(10.68,1)(10.68,nan)(10.72,1)(10.78,1)(10.78,nan)(10.8,1)(11.45,1)(11.45,nan)(11.49,1)(11.76,1)(11.76,nan)(11.8,1)(12.26,1)(12.26,nan)(12.3,1)(13.38,1)(13.38,nan)(13.4,1)(13.95,1)(13.95,nan)(13.98,1)(14.1,1)(14.1,nan)(14.13,1)(14.28,1)(14.28,nan)(14.31,1)(14.5,1)(14.5,nan)(14.53,1)(14.78,1)(14.78,nan)(14.82,1)(15.0,1)(15.0,nan)(15.02,1)(15.08,1)(15.08,nan)(15.12,1)(15.14,1)(15.14,nan)(15.18,1)(15.2,1)(15.2,nan)(15.24,1)(15.26,1)(15.26,nan)(15.3,1)(15.85,1)(15.85,nan)(15.9,1)(16.2,1)(16.2,nan)(16.23,1)(16.85,1)(16.85,nan)(16.88,1)(16.95,1)(16.95,nan)(16.99,1)(19.48,1)};
\end{axis}
\begin{axis}[depth, at={(44.3bp,-1327bp)}]
\addplot[dive] coordinates {(2.45,0)(2.5,0)(2.55,0)(2.6,0)(2.65,0)(2.7,0)(2.75,0)(2.8,0)(2.85,0)(2.9,0)(2.95,0)(3.0,0)(3.05,0)(3.1,0)(3.15,0)(3.2,0)(3.25,0)(3.27,0)
(3.28,20)(3.28,30)(3.28,50)(3.28,80)(3.28,100)(3.28,110)(3.28,130)(3.28,160)(3.28,180)(3.28,200)(3.28,220)(3.28,230)(3.28,240)(3.28,250)(3.28,260)(3.28,270)(3.28,290)
(3.29,220)(3.3,290)(3.31,180)(3.32,250)(3.33,200)(3.34,180)(3.35,210)
(3.37,150)(3.39,180)(3.41,160)(3.43,190)(3.45,150)(3.47,180)(3.49,160)(3.51,180)(3.53,160)(3.55,190)(3.57,160)(3.59,180)(3.61,170)(3.63,190)(3.65,160)(3.66,290)(3.67,180)(3.69,160)(3.71,190)(3.73,160)(3.75,180)(3.77,160)(3.79,190)(3.81,160)(3.83,180)(3.85,160)(3.87,190)(3.89,160)(3.9,270)(3.91,180)(3.93,160)(3.95,180)(3.97,160)(3.99,190)(4.01,160)(4.03,180)(4.05,160)(4.07,190)(4.09,150)(4.11,180)(4.13,160)(4.15,230)(4.16,180)(4.18,160)(4.2,190)(4.22,160)(4.24,180)(4.26,150)(4.28,190)(4.3,160)(4.32,180)(4.34,160)(4.36,190)(4.38,160)(4.4,180)(4.42,150)(4.44,190)(4.46,160)(4.48,180)(4.5,160)(4.52,190)(4.54,160)(4.56,180)(4.58,160)(4.6,200)(4.62,170)(4.64,230)(4.65,170)(4.66,290)(4.67,200)(4.68,260)(4.69,170)(4.7,290)(4.71,190)(4.72,250)(4.73,170)(4.75,190)(4.77,160)(4.79,200)(4.81,170)(4.83,230)(4.85,170)(4.87,220)(4.89,160)(4.91,230)(4.93,170)(4.95,190)
(4.97,150)(4.99,190)(5.01,160)(5.03,180)(5.05,150)(5.07,190)(5.09,160)(5.11,180)(5.13,150)(5.15,190)(5.17,160)(5.19,180)(5.21,150)(5.23,190)(5.25,160)(5.27,190)(5.29,150)(5.31,180)(5.33,160)(5.35,190)(5.37,150)(5.39,180)(5.41,160)(5.43,190)(5.45,150)(5.47,180)(5.49,160)(5.51,190)(5.53,150)(5.55,180)(5.57,160)(5.59,210)(5.61,150)(5.63,200)(5.65,140)(5.67,210)(5.69,150)(5.71,190)(5.73,160)(5.75,180)(5.77,150)(5.79,190)(5.81,160)(5.83,180)(5.85,150)(5.87,190)(5.89,160)(5.91,200)(5.93,150)(5.95,190)(5.97,170)(5.99,200)
(6.01,150)(6.03,200)(6.05,240)(6.06,170)(6.08,190)(6.1,150)(6.12,200)(6.14,160)(6.16,190)(6.18,150)(6.2,200)(6.22,160)(6.24,190)(6.26,150)(6.28,200)(6.3,160)(6.31,290)(6.32,180)(6.34,150)(6.36,190)(6.38,160)(6.4,200)(6.42,150)(6.44,190)(6.46,160)(6.48,200)(6.5,150)(6.52,190)(6.54,160)(6.56,200)(6.58,150)(6.6,190)(6.62,160)(6.64,140)(6.66,200)(6.68,150)(6.7,220)(6.72,160)(6.74,190)(6.76,170)(6.78,210)(6.8,160)(6.82,200)(6.84,170)(6.86,220)(6.88,160)(6.9,200)(6.92,170)(6.94,210)(6.96,180)(6.98,220)(7.0,170)(7.02,290)(7.03,180)(7.05,220)(7.07,190)(7.09,240)(7.11,170)(7.13,230)(7.15,190)(7.17,240)(7.19,200)(7.21,230)(7.23,190)(7.25,240)(7.27,200)(7.29,230)(7.31,210)(7.33,240)(7.35,200)(7.37,230)(7.39,210)(7.41,240)(7.43,200)(7.45,230)(7.47,220)(7.49,240)(7.51,210)
(7.53,290)(7.55,180)(7.57,290)(7.59,190)(7.61,290)(7.63,180)(7.65,290)(7.67,190)(7.69,280)(7.71,180)(7.73,290)(7.75,200)(7.77,290)(7.79,180)(7.81,290)(7.83,190)(7.85,280)(7.87,200)(7.89,290)(7.91,190)(7.93,290)(7.95,210)(7.97,290)(7.99,200)(8.01,290)(8.03,230)(8.05,290)
(8.08,220)(8.1,290)(8.13,230)(8.15,290)(8.18,220)(8.2,280)(8.23,230)(8.25,290)(8.28,220)(8.3,290)(8.33,240)(8.35,290)(8.38,220)(8.4,280)(8.43,230)(8.45,290)(8.48,220)(8.5,290)(8.53,240)(8.55,290)(8.58,220)(8.6,280)(8.63,200)(8.65,290)(8.68,230)(8.7,290)(8.73,220)(8.75,290)(8.78,240)(8.8,280)(8.83,230)(8.85,290)(8.88,220)(8.9,290)(8.93,230)(8.95,280)(8.98,240)(9.0,290)(9.03,220)(9.05,200)(9.06,290)(9.08,230)(9.1,290)(9.13,240)(9.15,280)(9.18,230)(9.2,290)(9.23,240)(9.25,290)(9.28,230)(9.3,280)(9.33,240)(9.35,290)(9.38,230)(9.4,290)(9.43,240)(9.45,280)(9.48,230)(9.5,290)(9.53,240)(9.55,290)(9.58,230)(9.6,280)(9.63,240)(9.65,290)(9.68,230)(9.7,290)
(9.73,240)(9.75,290)(9.78,250)(9.8,280)(9.83,240)(9.85,290)(9.88,250)(9.9,290)(9.93,240)(9.95,210)(9.96,290)(9.98,240)(10.0,290)(10.03,250)(10.05,280)(10.08,240)(10.1,290)(10.13,250)(10.15,290)(10.18,240)(10.2,280)(10.23,250)(10.25,290)(10.28,240)(10.3,290)(10.33,250)(10.35,280)(10.38,240)(10.4,290)(10.43,250)(10.45,290)(10.48,240)(10.5,280)(10.53,250)(10.55,290)(10.58,240)(10.6,290)(10.63,250)(10.65,280)(10.68,240)(10.7,290)(10.73,250)(10.75,290)(10.78,220)(10.8,280)(10.83,240)(10.85,290)(10.88,250)(10.9,290)(10.93,240)(10.95,280)(10.98,220)(11.0,290)(11.03,250)(11.05,290)(11.08,240)(11.1,280)(11.13,250)(11.15,290)(11.18,240)(11.2,290)(11.23,250)(11.25,280)(11.28,260)(11.3,290)(11.35,280)(11.4,290)
(11.45,280)(11.5,290)(11.55,280)(11.58,290)(11.6,250)(11.61,290)(11.62,190)(11.63,290)(11.64,200)(11.65,280)(11.66,230)(11.67,290)(11.68,250)(11.7,290)(11.75,280)(11.8,290)(11.85,280)(11.9,290)(11.95,260)(11.96,290)(11.97,200)(11.98,290)(11.99,210)(12.0,280)(12.01,230)(12.02,290)(12.04,260)(12.06,290)(12.1,280)(12.15,290)(12.2,290)(12.25,280)(12.3,290)(12.35,290)(12.4,280)(12.45,290)(12.5,290)(12.55,290)(12.6,290)
(12.62,240)(12.63,290)(12.64,200)(12.65,280)(12.66,210)(12.67,290)(12.68,220)(12.69,290)(12.7,200)(12.71,280)(12.72,230)(12.73,290)(12.74,210)(12.75,290)(12.76,220)(12.77,280)(12.78,240)(12.79,290)(12.8,230)(12.82,290)(12.85,290)
(12.9,290)(12.95,280)(13.0,290)(13.05,290)(13.07,250)(13.09,290)(13.15,290)(13.2,280)(13.25,290)(13.3,290)(13.35,280)(13.4,290)
(13.46,250)(13.47,290)(13.48,210)(13.5,290)(13.52,220)(13.54,280)(13.56,210)(13.58,290)(13.6,230)(13.62,290)(13.64,220)(13.66,280)(13.68,240)(13.7,290)(13.72,210)(13.74,290)(13.76,230)(13.78,280)(13.8,210)(13.82,290)(13.84,220)(13.86,290)(13.88,240)(13.9,280)(13.92,210)(13.94,290)(13.96,230)(13.98,290)(14.0,250)(14.02,290)(14.05,290)
(14.1,290)(14.2,290)(14.3,290)(14.4,290)(14.45,280)(14.5,290)(14.6,290)
(14.62,240)(14.63,290)(14.65,210)(14.67,290)(14.69,230)(14.71,280)(14.72,190)(14.74,290)(14.76,220)(14.78,290)(14.8,240)(14.82,280)(14.84,210)(14.86,290)(14.88,230)(14.9,290)(14.92,250)(14.94,280)(14.96,220)(14.98,290)(15.0,290)
(15.1,290)(15.2,290)(15.3,290)(15.4,290)(15.5,290)(15.6,290)
(15.66,200)(15.68,290)(15.7,220)(15.72,290)(15.74,230)(15.76,280)(15.78,240)(15.8,290)(15.82,230)(15.84,290)(15.86,240)(15.88,280)(15.9,230)(15.92,290)(15.94,250)(15.96,290)(15.98,240)(16.0,290)(16.03,290)
(16.1,290)(16.2,290)(16.3,290)(16.36,250)(16.38,290)(16.45,290)(16.55,290)
(16.6,240)(16.63,290)(16.65,250)(16.68,280)(16.7,220)(16.73,290)(16.75,210)(16.78,290)(16.8,230)(16.83,280)(16.85,220)(16.88,290)(16.9,240)(16.91,40)(16.92,290)(16.95,220)(16.98,280)(17.0,250)(17.03,290)(17.05,230)(17.08,280)(17.1,250)(17.13,290)(17.15,230)(17.18,280)(17.2,250)(17.23,200)(17.25,290)(17.28,240)(17.3,280)(17.33,250)(17.35,290)(17.38,220)(17.4,280)(17.43,40)(17.45,290)(17.48,250)(17.5,280)(17.53,230)(17.55,290)(17.58,250)(17.6,280)(17.63,220)(17.65,290)(17.68,240)(17.7,280)(17.72,250)(17.74,180)(17.76,290)(17.78,240)(17.8,280)(17.83,250)(17.85,290)(17.88,230)(17.9,280)(17.93,250)(17.95,290)(17.97,190)(17.99,280)(18.01,240)(18.03,290)(18.06,250)(18.08,280)(18.11,230)(18.13,290)(18.16,250)(18.18,280)(18.21,240)(18.23,290)(18.26,250)(18.28,280)(18.31,230)(18.33,290)(18.36,210)(18.38,280)(18.41,250)(18.43,290)(18.46,230)(18.48,280)(18.51,250)(18.53,290)(18.56,240)(18.58,280)(18.61,250)(18.63,290)(18.66,230)(18.68,280)(18.71,250)(18.74,180)(18.76,290)(18.79,240)(18.81,280)(18.84,250)(18.86,290)(18.89,230)(18.91,280)(18.94,250)(18.96,290)(18.99,240)(19.01,280)(19.04,250)(19.06,290)(19.09,230)(19.11,280)(19.14,250)(19.16,290)(19.19,240)(19.21,280)(19.24,250)(19.26,210)(19.28,290)(19.31,220)(19.33,280)(19.36,240)(19.38,290)(19.41,250)(19.43,280)(19.46,240)(19.48,290)};
\end{axis}

% ---------------- Tag 56580 ----------------
\node[font=\titlefont] at (957.9bp,-1260bp) {Tag ID = 56580};
\node[font=\labfont, rotate=90] at (637bp,-1483bp) {Pressure};
\begin{axis}[strip, at={(668.3bp,-1265.3bp)}]
\addplot[actbar] coordinates {(2.5,2)(2.52,2)(2.52,nan)(3.11,2)(3.25,2)(3.25,nan)(3.27,2)(3.38,2)(3.38,nan)(3.42,2)(3.44,2)(3.44,nan)(3.48,2)(3.5,2)(3.5,nan)(3.56,2)(3.58,2)(3.58,nan)(3.63,2)(3.65,2)(3.65,nan)(3.72,2)(3.74,2)(3.74,nan)(3.83,2)(3.85,2)(3.85,nan)(4.06,2)(4.12,2)(4.12,nan)(4.14,2)(4.22,2)(4.22,nan)(4.26,2)(4.9,2)(4.9,nan)(4.92,2)(5.0,2)(5.0,nan)(5.03,2)(5.05,2)(5.05,nan)(5.08,2)(5.2,2)(5.2,nan)(5.23,2)(5.3,2)(5.3,nan)(5.32,2)(5.4,2)(5.4,nan)(5.42,2)(5.46,2)(5.46,nan)(5.5,2)(5.58,2)(5.58,nan)(5.62,2)(5.72,2)(5.72,nan)(5.76,2)(6.0,2)(6.0,nan)(6.03,2)(6.05,2)(6.05,nan)(6.1,2)(6.15,2)(6.15,nan)(6.36,2)(6.38,2)(6.38,nan)(6.44,2)(6.46,2)(6.46,nan)(6.78,2)(6.82,2)(6.82,nan)(6.84,2)(6.86,2)(6.86,nan)(6.92,2)(6.94,2)(6.94,nan)(6.96,2)(7.04,2)(7.04,nan)(7.1,2)(7.12,2)(7.12,nan)(7.4,2)(7.42,2)(7.42,nan)(7.59,2)(7.61,2)(7.61,nan)(7.74,2)(7.76,2)(7.76,nan)(8.0,2)(8.02,2)(8.02,nan)(8.1,2)(8.12,2)};
\addplot[restbar] coordinates {(2.5,1)(2.52,1)(2.52,nan)(8.15,1)(8.17,1)(8.17,nan)(9.16,1)(9.18,1)(9.18,nan)(9.48,1)(9.5,1)(9.5,nan)(9.7,1)(9.72,1)(9.72,nan)(9.9,1)(9.98,1)(9.98,nan)(10.19,1)(10.21,1)(10.21,nan)(10.33,1)(10.35,1)(10.35,nan)(10.79,1)(10.81,1)(10.81,nan)(11.06,1)(11.08,1)(11.08,nan)(11.42,1)(11.48,1)(11.48,nan)(11.89,1)(11.91,1)(11.91,nan)(12.14,1)(12.16,1)(12.16,nan)(12.18,1)(12.2,1)(12.2,nan)(13.46,1)(13.48,1)(13.48,nan)(13.7,1)(13.73,1)(13.73,nan)(13.76,1)(13.78,1)(13.78,nan)(13.83,1)(13.86,1)(13.86,nan)(14.0,1)(14.02,1)(14.02,nan)(14.22,1)(14.25,1)(14.25,nan)(14.28,1)(14.8,1)(14.8,nan)(14.83,1)(14.9,1)(14.9,nan)(14.93,1)(14.99,1)(14.99,nan)(15.11,1)(15.13,1)(15.13,nan)(15.39,1)(15.41,1)(15.41,nan)(15.85,1)(15.88,1)(15.88,nan)(15.92,1)(15.95,1)(15.95,nan)(16.12,1)(16.15,1)(16.15,nan)(16.18,1)(16.35,1)(16.35,nan)(16.38,1)(16.45,1)(16.45,nan)(16.48,1)(16.52,1)(16.52,nan)(16.56,1)(16.6,1)(16.6,nan)(16.64,1)(16.66,1)(16.66,nan)(16.72,1)(16.75,1)};
\end{axis}
\begin{axis}[depth, at={(668.3bp,-1327bp)}]
\addplot[dive] coordinates {(2.5,0)(2.96,0)(2.99,0)(3.02,0)(3.05,0)(3.08,0)(3.11,0)(3.14,0)(3.17,0)(3.2,0)(3.23,0)(3.26,0)(3.27,0)
(3.28,20)(3.28,40)(3.28,50)(3.28,70)(3.28,90)(3.28,110)(3.28,120)(3.28,130)(3.28,140)(3.28,150)(3.28,160)(3.28,180)(3.28,200)(3.28,210)(3.28,230)(3.28,240)(3.28,250)(3.28,260)(3.28,270)(3.28,280)(3.28,290)
(3.29,250)(3.3,290)(3.31,240)(3.32,290)(3.33,270)(3.34,290)(3.35,240)(3.36,280)(3.37,250)(3.38,290)(3.39,220)(3.4,290)(3.41,230)(3.42,260)(3.43,290)(3.44,240)(3.45,290)(3.46,220)(3.47,280)(3.48,200)(3.49,290)(3.5,170)(3.505,190)(3.51,210)(3.515,240)(3.52,290)(3.53,170)(3.535,200)(3.54,250)(3.55,290)(3.56,270)(3.57,290)(3.58,260)(3.59,290)(3.6,280)(3.62,290)(3.63,240)(3.64,290)(3.65,250)(3.66,280)(3.67,240)(3.68,290)(3.69,260)(3.7,290)(3.71,240)(3.72,270)(3.73,290)(3.74,250)(3.75,290)(3.76,270)(3.78,290)(3.8,280)(3.82,290)(3.83,130)(3.835,290)(3.85,270)(3.87,290)(3.9,280)
(3.95,290)(4.0,290)(4.05,290)(4.09,290)(4.12,270)(4.15,250)(4.16,290)(4.2,280)(4.22,290)(4.25,280)(4.28,290)(4.3,280)(4.33,290)(4.36,280)(4.39,290)(4.42,280)(4.45,290)(4.48,280)(4.51,290)(4.54,280)(4.57,290)(4.6,290)
(4.61,180)(4.62,290)(4.63,160)(4.64,280)(4.65,170)(4.66,290)(4.67,180)(4.68,290)(4.69,200)(4.7,280)(4.71,180)(4.72,290)(4.73,170)(4.74,290)(4.75,190)(4.76,280)(4.77,180)(4.78,290)(4.79,200)(4.8,290)(4.81,170)(4.82,280)(4.83,180)(4.84,290)(4.85,200)(4.86,280)(4.87,170)(4.88,290)(4.89,190)(4.9,290)(4.91,180)(4.92,280)(4.93,140)(4.935,160)(4.94,180)(4.945,210)(4.95,290)(4.96,230)(4.97,290)(4.98,260)(4.99,290)
(5.02,290)(5.06,290)(5.1,290)(5.12,220)(5.13,290)(5.15,220)(5.16,280)(5.18,250)(5.2,290)(5.22,270)(5.25,290)(5.28,280)(5.31,290)(5.34,280)(5.37,290)(5.4,270)(5.43,290)(5.46,280)(5.49,290)(5.52,280)(5.55,290)(5.58,270)(5.6,290)
(5.62,250)(5.63,290)(5.64,220)(5.65,280)(5.66,200)(5.67,290)(5.68,190)(5.69,280)(5.7,200)(5.71,290)(5.72,190)(5.73,270)(5.74,200)(5.75,290)(5.76,190)(5.77,280)(5.78,200)(5.79,290)(5.8,200)(5.81,270)(5.82,210)(5.83,290)(5.84,200)(5.85,280)(5.86,200)(5.87,290)(5.88,210)(5.89,270)(5.9,200)(5.91,290)(5.92,200)(5.93,280)(5.94,210)(5.95,290)(5.96,200)(5.97,270)(5.98,200)(5.99,290)(6.0,200)(6.02,230)
(6.04,200)(6.06,210)(6.08,200)(6.1,210)(6.12,200)(6.14,210)(6.16,200)(6.18,210)(6.2,200)(6.22,210)(6.24,200)(6.26,210)(6.28,200)(6.3,190)(6.31,180)(6.32,190)(6.34,250)(6.36,190)(6.38,190)(6.43,200)(6.5,205)(6.6,210)(6.7,210)(6.76,200)
(6.77,270)(6.78,200)(6.79,260)(6.8,190)(6.81,250)(6.82,180)(6.83,240)(6.84,190)(6.85,200)(6.86,190)(6.88,180)(6.9,190)(6.92,180)(6.94,190)(6.96,180)(6.98,190)(7.0,190)(7.02,210)(7.03,290)(7.04,230)(7.05,290)(7.06,210)(7.07,270)(7.08,230)(7.1,290)(7.12,290)(7.14,290)
(7.17,290)(7.22,290)(7.27,290)(7.32,290)(7.36,290)(7.45,290)(7.5,290)(7.55,290)(7.62,290)(7.68,290)(7.76,290)(7.8,290)(7.88,290)(7.95,290)(8.0,290)(8.1,290)(8.15,290)(8.2,290)(8.95,290)(9.1,290)(9.15,290)(9.2,290)(9.85,290)(9.9,290)(9.95,290)(10.35,290)(11.05,290)(11.15,290)(11.2,290)(11.3,290)(11.4,290)(11.45,290)(11.8,290)(12.1,290)(12.15,290)(12.2,290)(12.25,290)(12.7,290)(12.95,290)(13.0,290)(13.4,290)(13.5,290)(13.6,290)(13.65,290)(13.7,290)(13.75,290)(13.8,290)(13.85,290)(13.9,290)(13.95,290)(14.0,290)(14.05,290)(14.1,290)(14.15,290)(14.2,290)(14.25,290)(14.3,290)(14.35,290)(14.4,290)(14.45,290)(14.5,290)(14.55,290)(14.6,290)(14.65,290)(14.7,290)(14.75,290)(14.8,290)(14.85,290)(14.9,290)(14.95,290)(15.0,290)(15.05,290)(15.1,290)(15.15,290)(15.2,290)(15.25,290)(15.3,290)(15.35,290)(15.42,290)(15.75,290)(15.8,290)(15.85,290)(15.9,290)(16.0,290)(16.05,290)(16.1,290)(16.15,290)(16.2,290)(16.25,290)(16.3,290)(16.35,290)(16.4,290)(16.45,290)(16.5,290)(16.55,290)(16.6,290)(16.65,290)(16.7,290)(16.75,290)(16.8,290)(16.86,290)(17.2,130)(17.99,290)(18.05,290)(18.1,290)(18.15,290)(18.2,290)(18.25,290)(18.3,290)(18.36,290)(19.22,130)};
\end{axis}
\end{tikzpicture}
\end{document}
